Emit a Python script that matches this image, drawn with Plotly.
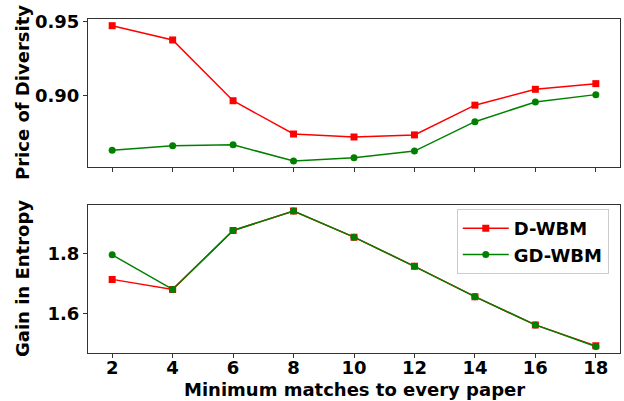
import plotly.graph_objects as go
from plotly.subplots import make_subplots

min_matches = [2, 4, 6, 8, 10, 12, 14, 16, 18]

# Price of Diversity
pod_dwbm = [0.9473, 0.9377, 0.8968, 0.8744, 0.8724, 0.8738, 0.8938, 0.9045, 0.9083]
pod_gdwbm = [0.8634, 0.8665, 0.8672, 0.8562, 0.8584, 0.8629, 0.8827, 0.8960, 0.9009]

# Gain in Entropy
gain_dwbm = [1.714, 1.681, 1.875, 1.939, 1.853, 1.757, 1.657, 1.564, 1.495]
gain_gdwbm = [1.795, 1.681, 1.875, 1.939, 1.853, 1.757, 1.657, 1.564, 1.493]

FONT = "DejaVu Sans"
FS = 18
RED = "#ff0000"
GREEN = "#008000"

fig = make_subplots(rows=2, cols=1, shared_xaxes=False)

def add_pair(row, d_vals, g_vals, show):
    fig.add_trace(go.Scatter(
        x=min_matches, y=d_vals, name="<b>D-WBM</b>", mode="lines+markers",
        line=dict(color=RED, width=1.5),
        marker=dict(symbol="square", size=7, color=RED),
        showlegend=show, legendgroup="d"), row=row, col=1)
    fig.add_trace(go.Scatter(
        x=min_matches, y=g_vals, name="<b>GD-WBM</b>", mode="lines+markers",
        line=dict(color=GREEN, width=1.5),
        marker=dict(symbol="circle", size=7, color=GREEN),
        showlegend=show, legendgroup="g"), row=row, col=1)

add_pair(1, pod_dwbm, pod_gdwbm, False)
add_pair(2, gain_dwbm, gain_gdwbm, True)

W, H = 624, 401
x_dom = [88 / W, 620 / W]
axis_common = dict(
    showline=True, linecolor="#333333", linewidth=1, mirror=True,
    ticks="outside", ticklen=4, tickcolor="#333333", showgrid=False,
    zeroline=False, automargin=False,
    tickfont=dict(family=FONT, size=FS, color="black"),
)

fig.update_xaxes(**axis_common)
fig.update_yaxes(**axis_common)

fig.update_layout(
    width=W, height=H,
    margin=dict(l=0, r=0, t=0, b=0),
    plot_bgcolor="white", paper_bgcolor="white",
    font=dict(family=FONT, color="black"),
    xaxis=dict(domain=x_dom, range=[1.2, 18.8], tickvals=min_matches,
               showticklabels=False),
    xaxis2=dict(domain=x_dom, range=[1.2, 18.8], tickvals=min_matches,
                ticktext=[f"<b>{v}</b>" for v in min_matches],
                ticklabelstandoff=-6),
    yaxis=dict(domain=[1 - 167 / H, 1 - 19 / H], range=[0.8522, 0.9518],
               tickvals=[0.90, 0.95], ticktext=["<b>0.90</b>", "<b>0.95</b>"]),
    yaxis2=dict(domain=[1 - 353.3 / H, 1 - 204.7 / H], range=[1.4705, 1.960],
                tickvals=[1.6, 1.8], ticktext=["<b>1.6</b>", "<b>1.8</b>"]),
    legend=dict(x=0.732, y=1 - 209 / H, xanchor="left", yanchor="top",
                bgcolor="rgba(255,255,255,0.8)", bordercolor="#cccccc",
                borderwidth=1, font=dict(family=FONT, size=FS),
                itemwidth=46, tracegroupgap=0),
)

# Axis titles placed in paper coordinates
titles = [
    dict(text="<b>Price of Diversity</b>", x=22 / W, y=1 - 93 / H, textangle=-90),
    dict(text="<b>Gain in Entropy</b>", x=22 / W, y=1 - 279 / H, textangle=-90),
    dict(text="<b>Minimum matches to every paper</b>", x=354 / W, y=1 - 389 / H,
         textangle=0),
]
for t in titles:
    fig.add_annotation(text=t["text"], x=t["x"], y=t["y"], xref="paper",
                       yref="paper", xanchor="center", yanchor="middle",
                       textangle=t["textangle"], showarrow=False,
                       font=dict(family=FONT, size=FS, color="black"))

fig.write_html("out.html")
